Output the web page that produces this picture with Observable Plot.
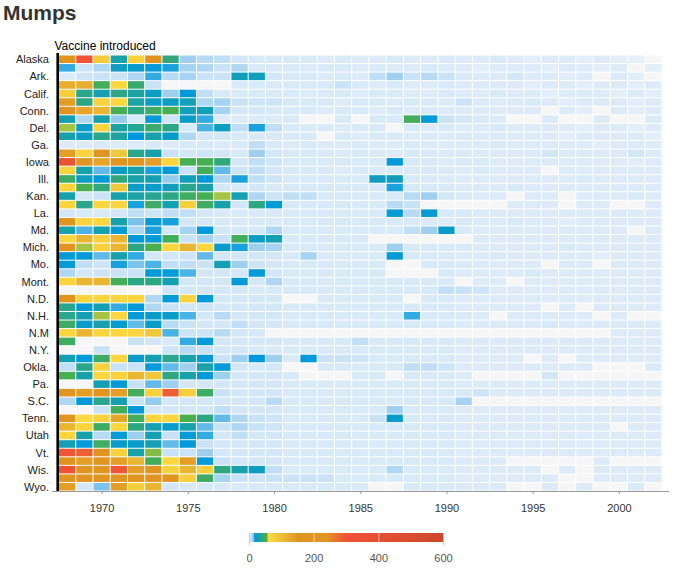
<!DOCTYPE html>
<html>
<head>
<meta charset="utf-8">
<script src="https://cdn.jsdelivr.net/npm/d3@7"></script>
<script src="https://cdn.jsdelivr.net/npm/@observablehq/plot@0.6"></script>
<style>
  body { margin: 0; background: #fff; font-family: "Liberation Sans", Arial, sans-serif; }
  #wrap { position: relative; width: 680px; height: 572px; }
  #title { position: absolute; left: 3px; top: 2px; margin: 0; font-size: 21px; line-height: 21px; font-weight: bold; color: #333; }
  #chart { position: absolute; left: 0; top: 0; }
  #legend { position: absolute; left: 0; top: 520px; }
</style>
</head>
<body>
<div id="wrap">
  <div id="chart"></div>
  <div id="legend"></div>
  <h1 id="title">Mumps</h1>
</div>
<script>
// ---- categories ----
const years = d3.range(1968, 2003); // 1968 … 2002
const stateNames = ["Alaska","Ala.","Ark.","Ariz.","Calif.","Colo.","Conn.","D.C.","Del.","Fla.",
  "Ga.","Hawaii","Iowa","Idaho","Ill.","Ind.","Kan.","Ky.","La.","Mass.",
  "Md.","Maine","Mich.","Minn.","Mo.","Miss.","Mont.","N.C.","N.D.","Neb.",
  "N.H.","N.J.","N.M","Nev.","N.Y.","Ohio","Okla.","Ore.","Pa.","R.I.",
  "S.C.","S.D.","Tenn.","Texas","Utah","Va.","Vt.","Wash.","Wis.","W.Va.","Wyo."];
const labeledStates = stateNames.filter((_, i) => i % 2 === 0);
const yearTicks = [1970, 1975, 1980, 1985, 1990, 1995, 2000];
const legendTicks = [0, 200, 400, 600];
const vaccineYear = 1967;
const vaccineLabel = "Vaccine introduced";

// ---- cases per 100,000, one list per state (1968 … 2002), null = no data ----
const AK = [180,300,80,30,70,170,42,11,8,7,4,3,3, 3,3,2,3,2,2,3,2,2,3, 2,2,3,2,1,2,2,1,2,1,0,null];
const AL = [16,5,9,25,22,19,17,10,9,6,9,3,3, 3,2,3,3,2,3,2,2,3,2, 2,1,2,2,2,1,2,2,1,2,null,1];
const AR = [2,5,6,6,9,16,8,10,6,6,26,26,4, 3,3,2,3,2,7,11,6,8,6, 3,2,2,4,2,2,1,2,null,2,1,null];
const AZ = [120,120,50,64,45,6,null,null,null,null,3,3,3, 3,3,3,6,3,2,3,2,2,3, 2,2,2,2,1,2,2,1,2,2,1,2];
const CA = [75,38,28,40,32,24,11,18,7,3,3,3,3, 3,2,3,3,2,3,3,2,2,3, 2,2,3,2,2,1,2,2,2,1,2,1];
const CO = [140,40,70,62,32,24,24,27,9,10,6,5,5, 3,3,3,2,3,3,2,3,3,2, 5,2,2,2,3,2,1,2,2,2,1,2];
const CT = [150,130,110,52,40,48,52,27,27,10,4,4,3, 3,3,2,3,3,2,3,2,3,2, 2,2,2,2,2,null,2,1,null,2,1,2];
const DC = [28,9,30,12,3,20,5,23,16,2,2,2,2, 3,null,null,3,null,3,3,50,19,6, 4,3,2,null,null,2,null,null,2,null,null,2];
const DE = [57,23,65,32,36,46,40,3,15,25,7,17,7, 3,3,3,2,3,3,null,3,2,3, 2,2,3,2,2,2,2,1,2,2,1,2];
const FL = [30,24,38,32,18,30,23,9,4,4,3,3,3, 3,3,null,3,2,3,3,2,3,2, 3,2,2,2,2,2,1,2,2,2,2,1];
const GA = [2,2,3,2,2,3,2,3,3,2,3,7,3, 2,3,2,2,3,2,2,3,2,2, 2,2,3,2,2,2,2,2,1,2,2,2];
const HI = [140,68,160,90,38,30,6,4,5,4,3,11,4, 3,3,3,2,3,3,2,3,3,2, 3,2,2,2,2,4,2,2,2,2,4,2];
const IA = [330,170,130,160,165,140,62,52,52,42,4,7,5, 3,3,3,3,3,3,18,3,3,2, 3,3,2,2,2,2,2,2,2,2,1,2];
const ID = [65,30,14,23,30,17,19,6,50,14,5,7,4, 3,3,3,2,3,3,3,3,3,3, 2,3,2,2,2,null,2,2,2,2,2,2];
const IL = [47,24,18,42,30,28,12,26,18,9,17,7,5, 3,3,3,3,3,25,26,3,3,2, 2,2,2,2,2,2,2,3,2,2,2,2];
const IN = [65,52,42,90,23,22,26,38,30,4,3,4,3, 3,3,3,3,3,3,17,3,3,3, 2,2,2,3,2,2,2,2,2,2,2,2];
const KS = [30,4,6,30,32,36,40,48,52,57,28,9,5, 7,7,3,3,3,3,3,8,11,4, 3,2,2,null,2,2,null,2,2,2,3,2];
const KY = [66,38,64,66,17,48,28,75,48,30,4,40,19, 3,3,3,3,3,3,8,6,null,null, null,null,null,2,2,2,null,2,2,null,null,2];
const LA = [4,3,3,4,7,5,7,7,4,3,3,3,3, 3,3,3,3,3,3,19,8,20,3, 3,2,2,2,2,2,2,2,2,2,2,2];
const MA = [160,66,62,30,13,20,17,4,4,3,3,3,3, 3,3,3,3,3,3,3,3,3,2, 3,2,2,3,2,2,1,2,2,2,2,2];
const MD = [30,15,29,19,9,17,4,10,18,4,4,4,9, 3,3,3,3,3,3,3,7,11,22, 3,2,2,2,2,2,2,2,2,2,null,2];
const ME = [65,110,75,110,18,19,50,6,10,6,50,24,28, 3,3,3,3,3,null,null,null,null,null, null,2,2,2,2,2,2,2,2,2,2,2];
const MI = [160,57,72,110,40,53,64,110,62,22,17,11,10, 3,3,3,3,3,3,11,3,3,3, 3,2,2,2,2,2,3,2,2,2,2,2];
const MN = [19,19,14,30,16,4,4,5,14,4,4,4,4, 3,10,3,3,3,3,19,3,3,3, 2,2,3,2,2,2,2,2,1,2,2,2];
const MO = [19,7,5,17,13,15,7,7,6,28,11,5,4, 3,3,3,3,3,3,null,null,3,3, 3,2,2,2,2,null,2,2,null,2,2,2];
const MS = [9,4,5,6,6,19,19,15,4,4,4,19,4, 3,3,3,3,3,3,null,null,null,3, 2,2,2,2,3,2,2,2,2,2,2,2];
const MT = [66,110,110,50,40,40,28,4,4,4,19,4,9, 3,3,3,3,3,3,3,3,3,3, null,2,2,null,2,2,2,2,2,2,2,2];
const NC = [null,null,null,null,null,null,5,4,4,4,4,3,3, 3,3,3,3,3,3,3,3,3,7, 6,5,2,2,2,2,2,2,2,2,2,2];
const ND = [160,66,66,66,66,9,19,66,19,4,4,4,4, null,null,3,3,3,3,3,null,3,3, 2,2,2,2,2,2,2,2,2,2,2,2];
const NE = [38,19,28,16,19,9,6,4,5,4,4,4,4, 3,3,3,3,3,3,3,3,3,3, 2,2,2,2,2,null,2,null,2,2,2,2];
const NH = [38,28,57,64,19,23,22,15,4,8,4,4,4, 3,3,3,3,3,3,3,16,3,3, 3,2,null,2,2,2,2,2,null,2,null,null];
const NJ = [48,23,30,22,14,22,8,6,4,4,7,4,4, 3,3,3,3,3,3,3,3,3,3, 2,2,2,2,2,3,2,2,2,2,2,2];
const NM = [66,110,66,64,66,90,15,5,5,8,4,3,null, null,null,null,null,null,null,null,null,null,null, null,null,null,null,null,null,null,null,null,2,2,2];
const NV = [48,null,null,null,6,4,3,16,19,4,4,4,4, 3,3,3,3,7,3,3,3,3,3, 2,2,2,2,2,2,2,2,2,2,2,2];
const NY = [null,null,6,null,null,null,5,8,6,4,4,3,3, 3,3,3,3,3,3,3,3,3,3, 2,2,2,2,2,2,2,2,2,2,2,2];
const OH = [28,19,48,64,22,28,38,30,19,6,11,18,11, 3,18,6,6,5,3,3,3,3,3, 2,2,2,2,null,2,null,2,2,2,2,2];
const OK = [7,38,70,6,6,19,14,11,30,19,4,3,4, null,null,3,3,3,3,3,7,7,5, 2,2,2,2,2,2,2,2,null,null,null,2];
const OR = [52,30,64,72,110,90,40,30,19,11,4,4,4, 3,null,null,null,3,3,null,3,3,3, 2,null,null,null,null,4,null,null,null,null,null,null];
const PA = [null,null,28,19,6,14,11,4,4,4,4,4,4, 3,3,3,3,3,3,3,3,3,3, 2,2,2,2,2,2,2,2,2,2,2,2];
const RI = [170,140,170,140,50,72,290,75,48,6,4,4,4, 3,3,3,3,3,3,3,3,3,3, 3,5,2,2,2,2,2,2,2,2,2,2];
const SC = [9,19,38,28,6,12,4,4,4,4,4,4,8, 3,3,3,3,3,3,3,3,3,3, 10,null,null,null,null,null,null,null,null,null,null,null];
const SD = [null,null,6,50,19,4,4,4,4,7,4,4,4, 3,3,3,3,3,3,11,3,3,3, 2,2,2,2,2,2,2,2,2,2,2,2];
const TN = [160,60,72,130,50,66,66,53,40,14,9,6,5, 3,3,3,3,3,6,23,3,3,3, 2,2,2,2,2,2,2,2,2,2,2,2];
const TX = [110,66,48,64,40,28,22,30,14,6,9,6,5, 3,3,3,3,3,3,3,3,3,3, 2,2,2,2,2,2,2,2,2,null,2,2];
const UT = [64,30,8,19,11,28,6,19,16,4,7,4,4, 3,3,3,3,3,3,3,3,3,3, 2,2,2,2,2,2,2,2,2,2,2,2];
const VA = [28,19,48,22,22,28,14,19,6,4,4,4,4, 3,3,3,3,3,3,3,3,3,3, 2,2,2,2,2,2,2,2,2,2,2,2];
const VT = [300,290,170,72,30,56,6,6,11,4,4,4,4, 3,3,3,3,3,3,3,3,3,3, 2,2,2,2,2,2,2,2,2,2,2,2];
const WA = [150,140,160,140,110,50,60,140,19,6,4,4,4, 3,3,3,3,3,3,3,3,3,3, 2,2,2,null,null,null,null,null,2,null,null,null];
const WI = [320,170,170,300,140,170,72,110,72,40,30,25,7, 3,3,3,3,3,3,9,3,3,3, 2,2,2,2,2,null,2,null,2,2,2,2];
const WV = [170,170,170,170,160,170,170,75,48,10,6,5,6, 6,6,6,3,3,3,3,3,3,3, 2,2,2,2,2,2,null,null,2,2,2,2];
const WY = [140,4,13,140,75,110,4,3,3,3,3,3,3, 3,3,3,3,3,null,null,3,3,3, 2,2,2,null,null,2,null,2,null,null,3,null];

const stateRows = [AK,AL,AR,AZ,CA,CO,CT,DC,DE,FL,GA,HI,IA,ID,IL,IN,KS,KY,LA,MA,MD,ME,MI,MN,MO,MS,MT,NC,ND,NE,NH,NJ,NM,NV,NY,OH,OK,OR,PA,RI,SC,SD,TN,TX,UT,VA,VT,WA,WI,WV,WY];

// ---- colour scale stops ----
const colorStops = [0, 6, 12, 18, 54, 60, 90, 150, 240, 300, 600];
const colorRange = ["#e7f0fa","#c9e2f6","#95cbee","#0099dc","#4ab04a","#ffd73e","#eec73a","#e29421","#e29421","#f05336","#ce472e"];
const missingColor = "#f6f6f6";

// ---- build table ----
const table = [];
stateNames.forEach((name, i) => {
  stateRows[i].forEach((v, j) => table.push({state: name, year: years[j], value: v}));
});
const known = table.filter(d => d.value != null);
const missing = table.filter(d => d.value == null);

const colorScale = {type: "linear", domain: colorStops, range: colorRange, interpolate: "rgb", clamp: true};
const font = "'Liberation Sans', Arial, sans-serif";

const chart = Plot.plot({
  width: 680,
  height: 520,
  marginTop: 55,
  marginBottom: 29,
  marginLeft: 58.5,
  marginRight: 18,
  style: {fontFamily: font, background: "#fff", color: "#222"},
  x: {domain: [years[0] - 0.5, years[years.length - 1] + 0.5], label: null},
  y: {domain: stateNames, padding: 0, round: false, label: null},
  color: colorScale,
  marks: [
    Plot.barX(missing, {x1: d => d.year - 0.5, x2: d => d.year + 0.5, y: "state", fill: missingColor, inset: 0.5}),
    Plot.barX(known, {x1: d => d.year - 0.5, x2: d => d.year + 0.5, y: "state", fill: "value", inset: 0.5}),
    Plot.frame({anchor: "bottom", stroke: "#999", insetLeft: -6.5, insetRight: -6}),
    Plot.axisX({ticks: yearTicks, tickFormat: d => String(d), tickSize: 3, tickPadding: 10, fontSize: 11, stroke: "#999", fill: "#333", label: null}),
    Plot.axisY({ticks: labeledStates, tickSize: 0, tickPadding: 10, fontSize: 11, fill: "#222", label: null}),
    Plot.ruleX([vaccineYear], {x: d => d + 0.5, stroke: "#000", strokeWidth: 2.6, dx: -1.3, insetTop: -2}),
    Plot.text([vaccineLabel], {x: vaccineYear + 0.5, text: d => d, frameAnchor: "top", textAnchor: "start", lineAnchor: "bottom", dx: -4.5, dy: -6, fontSize: 12, fill: "#000"})
  ]
});
document.getElementById("chart").appendChild(chart);

// ---- legend ----
const rampStep = 1;
const ramp = d3.range(legendTicks[0], legendTicks[legendTicks.length - 1], rampStep);
const legend = Plot.plot({
  width: 680,
  height: 52,
  marginLeft: 249,
  marginRight: 237,
  marginTop: 13,
  marginBottom: 30,
  style: {fontFamily: font, background: "#fff"},
  x: {domain: [legendTicks[0], legendTicks[legendTicks.length - 1]], label: null},
  color: colorScale,
  marks: [
    Plot.rect(ramp, {x1: d => d, x2: d => d + rampStep * 1.3, fill: d => d, shapeRendering: "crispEdges"}),
    Plot.ruleX(legendTicks.slice(1, -1), {stroke: "#fff", strokeOpacity: 0.55}),
    Plot.ruleX([legendTicks[0], legendTicks[legendTicks.length - 1]], {stroke: "#ccc", insetBottom: -3}),
    Plot.axisX({ticks: legendTicks, tickSize: 0, tickPadding: 12, fontSize: 11, fill: "#555", label: null})
  ]
});
document.getElementById("legend").appendChild(legend);
</script>
</body>
</html>
